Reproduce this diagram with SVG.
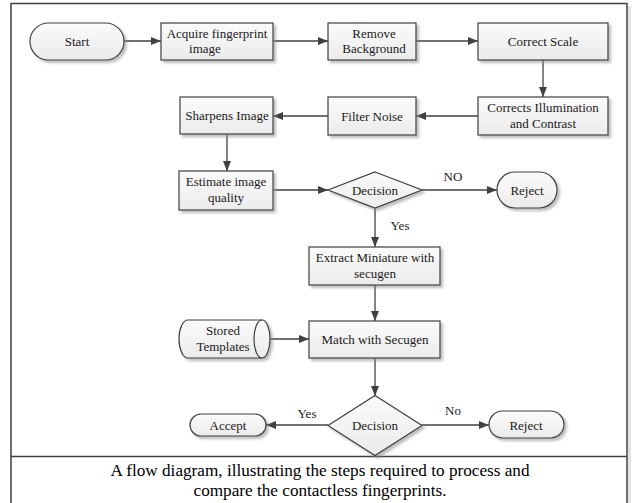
<svg xmlns="http://www.w3.org/2000/svg" width="633" height="503" viewBox="0 0 633 503">
<defs>
<linearGradient id="g" x1="0" y1="0" x2="0" y2="1">
<stop offset="0" stop-color="#fbfbfb"/>
<stop offset="1" stop-color="#ebebeb"/>
</linearGradient>
<filter id="sh" x="-10%" y="-10%" width="130%" height="140%">
<feDropShadow dx="2.5" dy="2.5" stdDeviation="1" flood-color="#888" flood-opacity="0.55"/>
</filter>
<marker id="ah" markerWidth="10" markerHeight="8" refX="10" refY="4" orient="auto" markerUnits="userSpaceOnUse">
<path d="M0,0 L10,4 L0,8 Z" fill="#404040"/>
</marker>
<style>
.n{fill:url(#g);stroke:#404040;stroke-width:1.2;filter:url(#sh)}
.t{font-family:"Liberation Serif","Times New Roman",serif;font-size:13px;fill:#1a1a1a;text-anchor:middle}
.c{stroke:#404040;stroke-width:1.3;fill:none;marker-end:url(#ah)}
.cap{font-family:"Liberation Serif","Times New Roman",serif;font-size:17.2px;fill:#000;text-anchor:middle}
</style>
</defs>
<rect width="633" height="503" fill="#fff"/>
<rect x="628" y="6" width="3" height="497" fill="#e2e2e2"/>
<rect x="11" y="3.5" width="616" height="510" fill="none" stroke="#404040" stroke-width="1.5"/>
<line x1="11" y1="456.5" x2="627" y2="456.5" stroke="#404040" stroke-width="1.5"/>

<g id="connectors">
<line class="c" x1="124" y1="41" x2="161" y2="41"/>
<line class="c" x1="273" y1="41" x2="328" y2="41"/>
<line class="c" x1="416" y1="41" x2="478" y2="41"/>
<line class="c" x1="543" y1="60" x2="543" y2="97"/>
<line class="c" x1="478" y1="116" x2="416" y2="116"/>
<line class="c" x1="328" y1="116" x2="273" y2="116"/>
<line class="c" x1="227" y1="134" x2="227" y2="171"/>
<line class="c" x1="273" y1="190" x2="328" y2="190"/>
<line class="c" x1="422" y1="190" x2="497" y2="190"/>
<line class="c" x1="375" y1="208" x2="375" y2="247"/>
<line class="c" x1="375" y1="285" x2="375" y2="321"/>
<line class="c" x1="270" y1="339" x2="309" y2="339"/>
<line class="c" x1="375" y1="358" x2="375" y2="396"/>
<line class="c" x1="328" y1="425" x2="266" y2="425"/>
<line class="c" x1="422" y1="425" x2="489" y2="425"/>
<text class="t" x="453" y="181">NO</text>
<text class="t" x="400" y="230">Yes</text>
<text class="t" x="307" y="418">Yes</text>
<text class="t" x="453" y="415">No</text>
</g>

<g id="start">
<rect class="n" x="30" y="23" width="94" height="37" rx="18.5"/>
<text class="t" x="77" y="45.5">Start</text>
</g>
<g id="acquire">
<rect class="n" x="161" y="23" width="112" height="37"/>
<text class="t" x="217" y="37.5">Acquire fingerprint</text>
<text class="t" x="205" y="53">image</text>
</g>
<g id="remove">
<rect class="n" x="328" y="23" width="88" height="37"/>
<text class="t" x="374" y="37.5">Remove</text>
<text class="t" x="374" y="53">Background</text>
</g>
<g id="scale">
<rect class="n" x="478" y="23" width="130" height="37"/>
<text class="t" x="543" y="45.5">Correct Scale</text>
</g>
<g id="illum">
<rect class="n" x="478" y="97" width="130" height="38"/>
<text class="t" x="543" y="112">Corrects Illumination</text>
<text class="t" x="543" y="128">and Contrast</text>
</g>
<g id="filter">
<rect class="n" x="328" y="97" width="88" height="38"/>
<text class="t" x="372" y="120.5">Filter Noise</text>
</g>
<g id="sharpen">
<rect class="n" x="180" y="97" width="93" height="37"/>
<text class="t" x="227" y="120">Sharpens Image</text>
</g>
<g id="estimate">
<rect class="n" x="179" y="171" width="94" height="39"/>
<text class="t" x="226" y="186">Estimate image</text>
<text class="t" x="226" y="202">quality</text>
</g>
<g id="decision1">
<polygon class="n" points="375,172 422,190 375,208 328,190"/>
<text class="t" x="375" y="194.5">Decision</text>
</g>
<g id="reject1">
<rect class="n" x="497" y="172" width="60" height="36" rx="18"/>
<text class="t" x="527" y="194.5">Reject</text>
</g>
<g id="extract">
<rect class="n" x="309" y="247" width="131" height="38"/>
<text class="t" x="375" y="262">Extract Miniature with</text>
<text class="t" x="375" y="278">secugen</text>
</g>
<g id="stored">
<path class="n" d="M188,320 H262 A8,19 0 0 1 262,358 H188 A9,19 0 0 1 188,320 Z"/>
<path d="M262,320 A8,19 0 0 0 262,358" fill="none" stroke="#404040" stroke-width="1.2"/>
<text class="t" x="223" y="335">Stored</text>
<text class="t" x="223" y="351">Templates</text>
</g>
<g id="match">
<rect class="n" x="309" y="321" width="131" height="37"/>
<text class="t" x="375" y="343.5">Match with Secugen</text>
</g>
<g id="decision2">
<polygon class="n" points="375,395.5 422,425.5 375,455.5 328,425.5"/>
<text class="t" x="375" y="430">Decision</text>
</g>
<g id="accept">
<rect class="n" x="190" y="414" width="76" height="22" rx="11"/>
<text class="t" x="228" y="429.5">Accept</text>
</g>
<g id="reject2">
<rect class="n" x="489" y="411" width="75" height="27" rx="13.5"/>
<text class="t" x="526" y="429.5">Reject</text>
</g>
<text class="cap" x="320" y="476">A flow diagram, illustrating the steps required to process and</text>
<text class="cap" x="320" y="496">compare the contactless fingerprints.</text>
</svg>
